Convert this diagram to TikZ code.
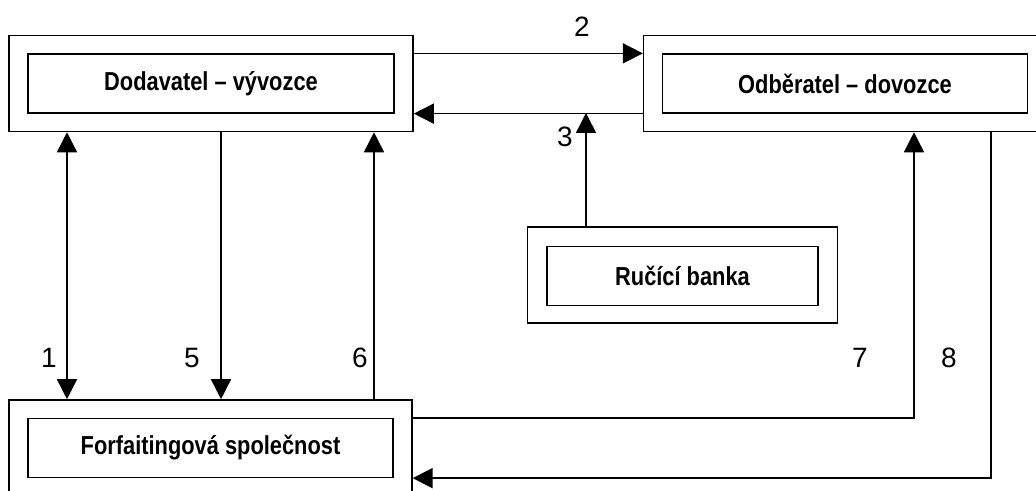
\documentclass[tikz,border=0pt]{standalone}
\usepackage{fontspec}
\setmainfont{Liberation Sans}
\newfontfamily\boxfont[FakeStretch=0.84]{Liberation Sans}
\usetikzlibrary{positioning, calc, arrows.meta}

\tikzset{
    outerbox/.style={draw, line width=1.2pt, minimum width=#1, minimum height=72pt, inner sep=0pt},
    innerbox/.style={draw, line width=1.2pt, minimum width=#1, minimum height=44pt, inner sep=0pt,
        font=\boxfont\bfseries\fontsize{19.5}{22}\selectfont},
    flow/.style={line width=1.2pt, -{Triangle[length=15pt, width=15pt]}},
    num/.style={font=\fontsize{21}{24}\selectfont, inner sep=0pt}
}

\begin{document}
\begin{tikzpicture}[x=0.75pt, y=-0.75pt]
    \useasboundingbox (0,0) rectangle (1036,491);
    \clip (0,0) rectangle (1036,491);
    % boxes
    \node[outerbox=303pt] (dod) at (211,83.5) {};
    \node[innerbox=274.5pt] (dodIn) at (211,83.5) {Dodavatel – vývozce};
    \node[outerbox=302pt] (odb) at (845,83.5) {};
    \node[innerbox=273.5pt] (odbIn) at (845,83.5) {Odběratel – dovozce};
    \node[outerbox=232.5pt] (bank) at (682.5,275) {};
    \node[innerbox=203pt] (bankIn) at (682.5,276) {Ručící banka};
    \node[outerbox=302pt] (forf) at (210.5,448) {};
    \node[innerbox=274pt] (forfIn) at (210.5,448) {Forfaitingová společnost};
    % x positions of the vertical connectors
    \coordinate (x1) at (67,0);
    \coordinate (x5) at (221,0);
    \coordinate (x6) at (374,0);
    \coordinate (x7) at (914,0);
    \coordinate (x8) at (991,0);
    \coordinate (c3) at (586,113);
    % connectors
    \draw[flow] (dodIn.north -| dod.east) -- (dodIn.north -| odb.west);
    \draw[flow] (odbIn.south -| odb.west) -- (odbIn.south -| dod.east);
    \draw[flow] (bank.north -| c3) -- (c3);
    \draw[flow, {Triangle[length=15pt, width=15pt]}-{Triangle[length=15pt, width=15pt]}] (dod.south -| x1) -- (forf.north -| x1);
    \draw[flow] (dod.south -| x5) -- (forf.north -| x5);
    \draw[flow] (forf.north -| x6) -- (dod.south -| x6);
    \draw[flow] (forfIn.north -| forf.east) -| (odb.south -| x7);
    \draw[flow] (odb.south -| x8) |- (forfIn.south -| forf.east);
    % numbers
    \node[num] (n1) at (49,358) {1};
    \node[num] (n2) at (582,27) {2};
    \node[num] (n3) at (565,137) {3};
    \node[num] (n5) at (192,358) {5};
    \node[num] (n6) at (360,358) {6};
    \node[num] (n7) at (860,358) {7};
    \node[num] (n8) at (949,358) {8};
\end{tikzpicture}
\end{document}
